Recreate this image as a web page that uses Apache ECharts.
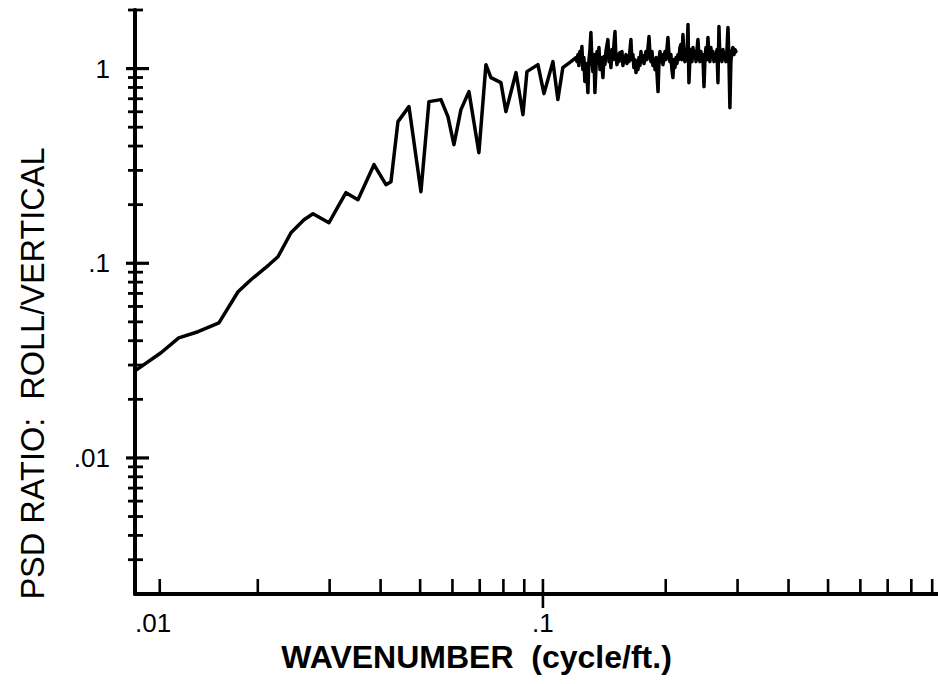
<!DOCTYPE html>
<html>
<head>
<meta charset="utf-8">
<script src="https://cdn.jsdelivr.net/npm/echarts@6/dist/echarts.min.js"></script>
<style>
  html, body { margin: 0; padding: 0; background: #ffffff; }
  #chart { width: 938px; height: 684px; }
</style>
</head>
<body>
<div id="chart"></div>
<script>
// Wavenumber (cycle/ft) of each spectral estimate
const wavenumber = [
  0.0100, 0.01158, 0.0128, 0.01427, 0.01606, 0.01789, 0.01924, 0.0213, 0.02241, 0.02412,
  0.02596, 0.02731, 0.02989, 0.03145, 0.0329, 0.0352, 0.03641, 0.03853, 0.04123, 0.04241,
  0.04412, 0.04694, 0.05023, 0.05255, 0.05623, 0.0585, 0.06051, 0.06295, 0.06586, 0.06967,
  0.07249, 0.07456, 0.07889, 0.08115, 0.0859, 0.08933, 0.09137, 0.09721, 0.1006, 0.1058,
  0.1088, 0.1119, 0.1171, 0.1205,
  0.1212, 0.1219, 0.1225, 0.1232, 0.1239, 0.1246, 0.1253, 0.1260, 0.1267, 0.1275,
  0.1282, 0.1289, 0.1296, 0.1304, 0.1311, 0.1318, 0.1326, 0.1334, 0.1341, 0.1349,
  0.1357, 0.1364, 0.1372, 0.1380, 0.1388, 0.1396, 0.1403, 0.1411, 0.1419, 0.1427,
  0.1443, 0.1452, 0.1460, 0.1468, 0.1476, 0.1485, 0.1493, 0.1502, 0.1510, 0.1519,
  0.1527, 0.1536, 0.1544, 0.1553, 0.1562, 0.1571, 0.1580, 0.1589, 0.1598, 0.1607,
  0.1616, 0.1625, 0.1643, 0.1652, 0.1662, 0.1671, 0.1681, 0.1691, 0.1700, 0.1710,
  0.1719, 0.1729, 0.1739, 0.1749, 0.1759, 0.1769, 0.1789, 0.1799, 0.1820, 0.1830,
  0.1840, 0.1851, 0.1861, 0.1872, 0.1883, 0.1894, 0.1915, 0.1926, 0.1936, 0.1947,
  0.1958, 0.1969, 0.1981, 0.1992, 0.2003, 0.2025, 0.2037, 0.2048, 0.2059, 0.2071,
  0.2083, 0.2095, 0.2107, 0.2119, 0.2131, 0.2143, 0.2155, 0.2167, 0.2179, 0.2192,
  0.2204, 0.2217, 0.2230, 0.2242, 0.2255, 0.2268, 0.2280, 0.2293, 0.2306, 0.2319,
  0.2333, 0.2346, 0.2359, 0.2373, 0.2386, 0.2399, 0.2412, 0.2426, 0.2439, 0.2453,
  0.2467, 0.2482, 0.2496, 0.2510, 0.2524, 0.2538, 0.2553, 0.2567, 0.2581, 0.2596,
  0.2611, 0.2626, 0.2641, 0.2656, 0.2671, 0.2686, 0.2701, 0.2716, 0.2731, 0.2747,
  0.2763, 0.2778, 0.2794, 0.2810, 0.2826, 0.2842, 0.2857, 0.2873, 0.2889, 0.2906,
  0.2922, 0.2939, 0.2956, 0.2972
];

// Ratio of roll PSD to vertical PSD at each wavenumber
const psdRatio = [
  0.028, 0.0347, 0.0414, 0.0445, 0.0494, 0.0714, 0.0823, 0.0982, 0.108, 0.1435,
  0.1674, 0.1797, 0.1615, 0.1952, 0.2304, 0.2121, 0.2474, 0.3209, 0.2533, 0.2624,
  0.534, 0.638, 0.2331, 0.6766, 0.693, 0.5665, 0.4068, 0.6156, 0.7615, 0.37,
  1.048, 0.899, 0.8475, 0.601, 0.9537, 0.58, 0.965, 1.048, 0.7436, 1.086,
  0.693, 1.012, 1.086, 1.139,
  1.086, 1.180, 1.036, 1.223, 1.112, 1.297, 0.988, 1.139, 0.858, 1.061,
  0.932, 0.753, 1.086, 1.252, 1.531, 1.112, 0.965, 1.180, 0.753, 1.012,
  1.223, 1.086, 1.282, 0.988, 1.139, 1.036, 0.899, 1.153, 1.048, 1.223,
  1.409, 1.086, 1.180, 1.012, 1.252, 1.112, 1.328, 1.549, 1.139, 1.048,
  1.180, 1.086, 1.209, 1.112, 1.223, 1.036, 1.139, 1.086, 1.180, 1.061,
  1.153, 1.086, 1.409, 1.112, 1.180, 1.012, 1.112, 0.954, 1.086, 0.988,
  1.139, 1.036, 1.223, 1.086, 1.166, 1.061, 1.223, 1.112, 1.460, 1.180,
  1.086, 1.223, 1.036, 1.112, 0.988, 1.139, 0.762, 1.112, 1.223, 1.086,
  1.180, 1.048, 1.139, 1.223, 1.112, 1.443, 1.180, 1.086, 1.180, 0.988,
  0.899, 1.112, 1.012, 1.139, 1.061, 1.180, 1.112, 1.282, 1.328, 1.112,
  1.495, 1.180, 1.086, 1.252, 1.139, 1.684, 0.847, 1.139, 1.252, 1.086,
  1.282, 1.139, 1.223, 1.086, 1.252, 1.409, 1.166, 1.086, 1.223, 1.112,
  1.180, 0.808, 1.139, 1.282, 1.112, 1.443, 1.180, 1.086, 1.282, 1.139,
  1.223, 1.086, 1.180, 1.139, 1.252, 0.847, 1.644, 1.112, 1.223, 1.086,
  1.252, 1.139, 1.180, 1.086, 1.252, 1.625, 1.139, 0.630, 1.086, 1.223,
  1.282, 1.180, 1.252, 1.223
];

// Axis ranges
const xRange = [0.01, 0.93];
const yRange = [0.002, 2];

// Tick marks along the wavenumber axis
const xTickValues = [0.0115, 0.02, 0.03, 0.04, 0.05, 0.06, 0.07, 0.08, 0.09, 0.1,
                     0.2, 0.3, 0.4, 0.5, 0.6, 0.7, 0.8, 0.9];
const xLabelValues = [0.01, 0.1];
const xLabelTexts = ['.01', '.1'];

// Tick marks along the ratio axis
const yMajorTicks = [0.01, 0.1, 1];
const yMinorTicks = [0.003, 0.004, 0.005, 0.006, 0.007, 0.008, 0.009,
                     0.02, 0.03, 0.04, 0.05, 0.06, 0.07, 0.08, 0.09,
                     0.2, 0.3, 0.4, 0.5, 0.6, 0.7, 0.8, 0.9, 2];
const yLabelValues = [0.01, 0.1, 1];
const yLabelTexts = ['.01', '.1', '1'];

const FONT = '"Liberation Sans", Arial, Helvetica, sans-serif';

function findIndexLog(v, list) {
  for (let i = 0; i < list.length; i++) {
    if (Math.abs(Math.log10(v) - Math.log10(list[i])) < 1e-6) return i;
  }
  return -1;
}
function labelFor(v, values, texts) {
  const i = findIndexLog(v, values);
  return i >= 0 ? texts[i] : '';
}

const chart = echarts.init(document.getElementById('chart'), null, { renderer: 'svg' });

const curve = wavenumber.map((x, i) => [x, psdRatio[i]]);

chart.setOption({
  animation: false,
  backgroundColor: '#ffffff',
  grid: {
    left: 135, top: 10, right: 0, height: 584,
    containLabel: false, outerBoundsMode: 'none'
  },
  xAxis: {
    type: 'log', logBase: 10, min: xRange[0], max: xRange[1],
    axisLine: { show: true, onZero: false, lineStyle: { color: '#000', width: 4 } },
    axisTick: { show: false },
    splitLine: { show: false },
    axisLabel: {
      show: true, margin: 16, color: '#000', fontSize: 26, fontFamily: FONT,
      alignMinLabel: 'left', showMinLabel: true, showMaxLabel: false,
      formatter: v => labelFor(v, xLabelValues, xLabelTexts)
    },
    name: 'WAVENUMBER  (cycle/ft.)',
    nameLocation: 'middle', nameGap: 37,
    nameTextStyle: { color: '#000', fontSize: 32, fontWeight: 'bold', fontFamily: FONT, padding: [0, 120, 0, 0] }
  },
  yAxis: {
    type: 'log', logBase: 10, min: yRange[0], max: yRange[1],
    axisLine: { show: true, onZero: false, lineStyle: { color: '#000', width: 4 } },
    axisTick: { show: false },
    splitLine: { show: false },
    axisLabel: {
      show: true, margin: 25, color: '#000', fontSize: 26, fontFamily: FONT,
      showMinLabel: false, showMaxLabel: false,
      formatter: v => labelFor(v, yLabelValues, yLabelTexts)
    },
    name: 'PSD RATIO:  ROLL/VERTICAL',
    nameLocation: 'middle', nameGap: 86,
    nameTextStyle: { color: '#000', fontSize: 32.5, fontFamily: FONT, padding: [0, 143, 0, 0] }
  },
  series: [
    {
      type: 'line',
      data: curve,
      showSymbol: false,
      symbol: 'none',
      lineStyle: { color: '#000', width: 3.5, join: 'round', cap: 'round' },
      silent: true,
      z: 3
    },
    {
      // wavenumber-axis tick marks
      type: 'custom',
      silent: true,
      data: xTickValues.map(v => [v, yRange[0]]),
      renderItem: (params, api) => {
        const v = api.value(0);
        const p = api.coord([v, yRange[0]]);
        const labelled = findIndexLog(v, xLabelValues) >= 0;
        return {
          type: 'line',
          shape: { x1: p[0], y1: p[1] + (labelled ? 14 : 0), x2: p[0], y2: p[1] - 15 },
          style: { stroke: '#000', lineWidth: 2.6 }
        };
      },
      z: 4
    },
    {
      // ratio-axis tick marks, major and minor
      type: 'custom',
      silent: true,
      data: yMajorTicks.map(v => [xRange[0], v, 1]).concat(yMinorTicks.map(v => [xRange[0], v, 0])),
      renderItem: (params, api) => {
        const p = api.coord([xRange[0], api.value(1)]);
        const major = api.value(2) === 1;
        return {
          type: 'line',
          shape: { x1: p[0] - (major ? 9 : 7), y1: p[1], x2: p[0] + (major ? 14 : 8), y2: p[1] },
          style: { stroke: '#000', lineWidth: major ? 3.2 : 2.8 }
        };
      },
      z: 4
    }
  ]
});
</script>
</body>
</html>
